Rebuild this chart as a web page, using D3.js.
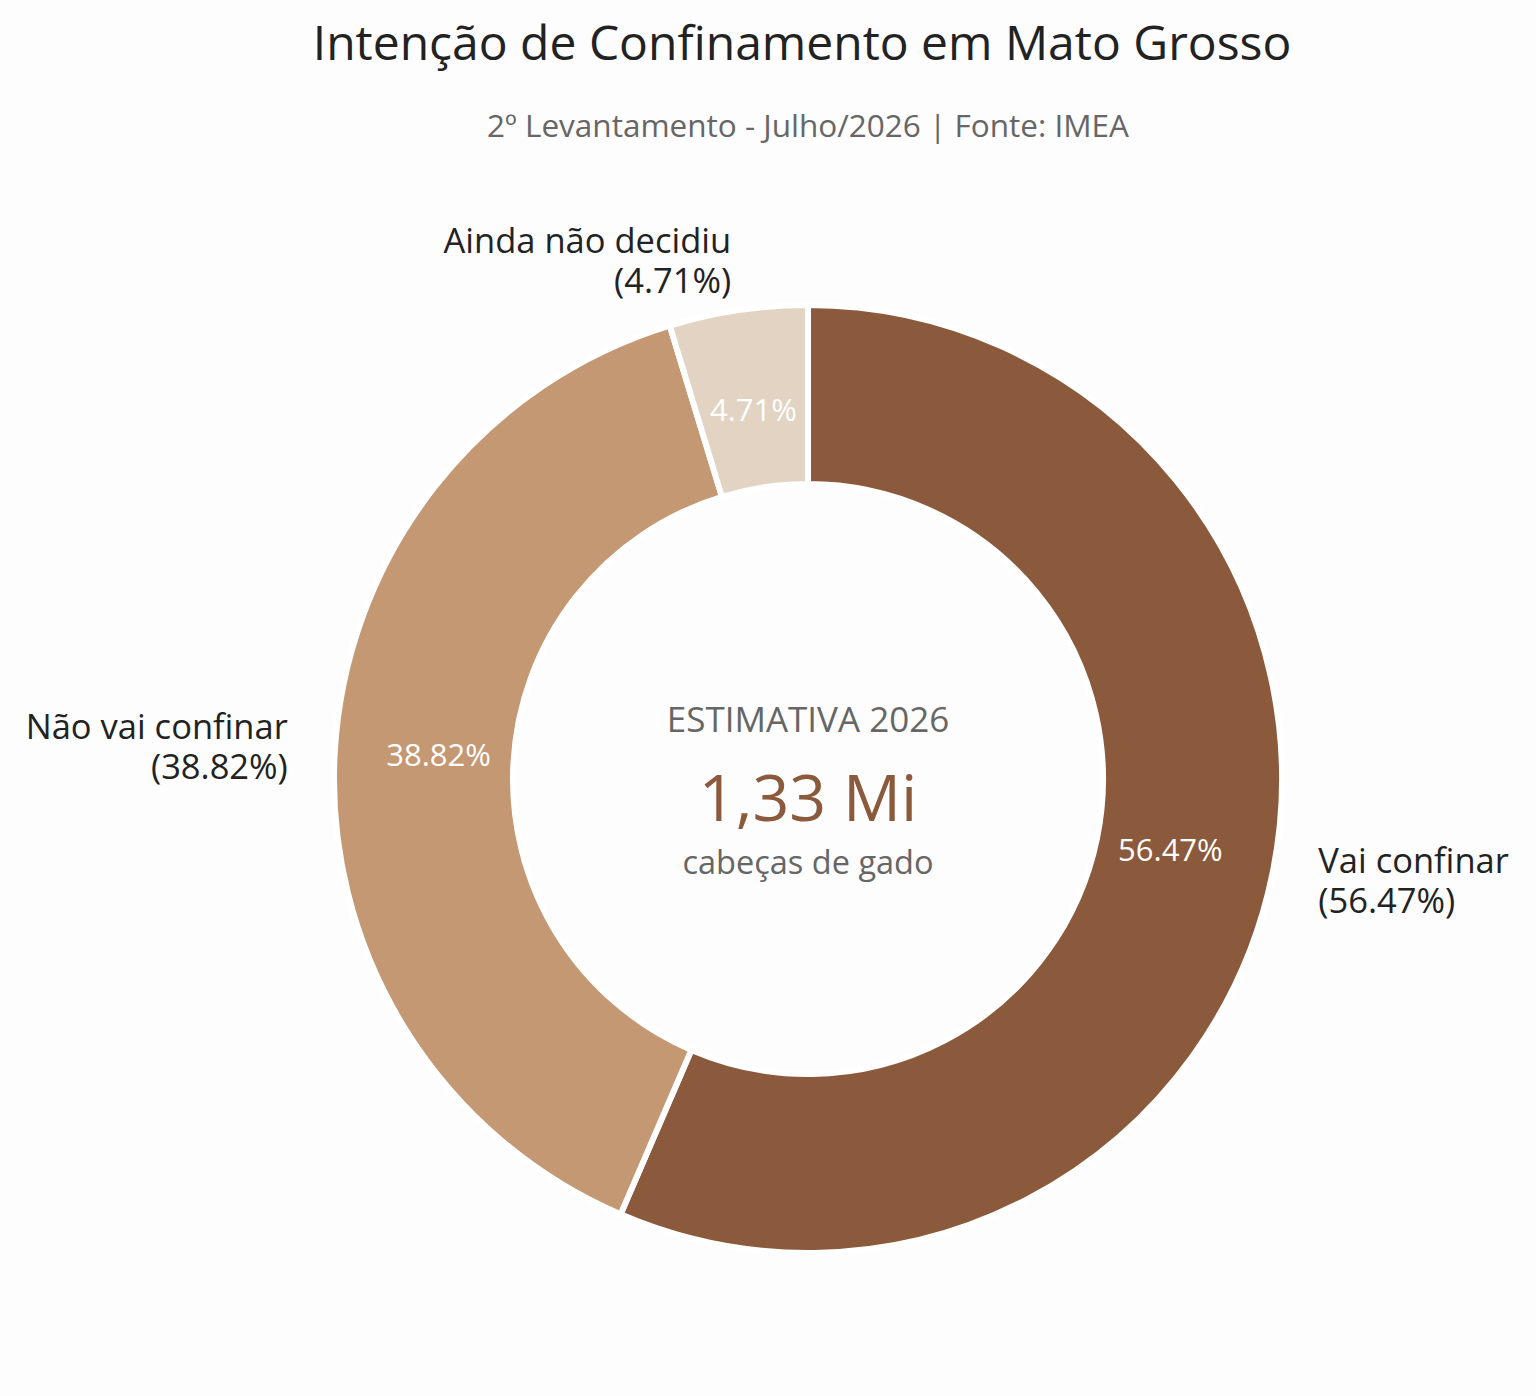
<!DOCTYPE html>
<html><head><meta charset="utf-8">
<script src="https://cdn.jsdelivr.net/npm/d3@7"></script>
<style>
html,body{margin:0;padding:0;background:#fdfdfd;}
svg{display:block;font-family:"Open Sans",Roboto,sans-serif;}
</style></head>
<body>
<svg id="chart" width="1536" height="1396"></svg>
<script>
const categories = ["Vai confinar", "Não vai confinar", "Ainda não decidiu"];
const values = [56.47, 38.82, 4.71];
const colors = ["#8b5a3c", "#c49873", "#e3d3c2"];
const titleText = "Intenção de Confinamento em Mato Grosso";
const subtitleText = "2º Levantamento - Julho/2026 | Fonte: IMEA";
const centerLines = ["ESTIMATIVA 2026", "1,33 Mi", "cabeças de gado"];

const svg = d3.select("#chart");
const cx = 808, cy = 779, R = 474, r = 295;

svg.append("text").attr("x", 802).attr("y", 60).attr("text-anchor", "middle")
  .attr("font-size", 48).attr("fill", "#222").text(titleText);
svg.append("text").attr("x", 808).attr("y", 137).attr("text-anchor", "middle")
  .attr("font-size", 31.5).attr("fill", "#666").text(subtitleText);

const data = categories.map((c, i) => ({cat: c, value: values[i], color: colors[i]}));
const pie = d3.pie().value(d => d.value).sort(null);
const arcs = pie(data);
const arc = d3.arc().innerRadius(r).outerRadius(R);
const labelArc = d3.arc().innerRadius(370).outerRadius(370);
const outerArc = d3.arc().innerRadius(521).outerRadius(521);

const g = svg.append("g").attr("transform", `translate(${cx},${cy})`);
g.selectAll("path").data(arcs).join("path")
  .attr("d", arc).attr("fill", d => d.data.color)
  .attr("stroke", "#ffffff").attr("stroke-width", 6);

const fmt = v => v.toFixed(2) + "%";
g.selectAll("text.in").data(arcs).join("text").attr("class", "in")
  .attr("transform", d => `translate(${labelArc.centroid(d)})`)
  .attr("text-anchor", "middle").attr("dy", "0.25em")
  .attr("font-size", 31).attr("fill", "#ffffff")
  .text(d => fmt(d.data.value));

const outer = g.selectAll("g.out").data(arcs).join("g").attr("class", "out")
  .attr("transform", d => `translate(${outerArc.centroid(d)})`);
const anchorOf = d => ((d.startAngle + d.endAngle) / 2 < Math.PI ? "start" : "end");
outer.append("text").attr("y", -11).attr("text-anchor", anchorOf)
  .attr("font-size", 34.5).attr("fill", "#222").text(d => d.data.cat);
outer.append("text").attr("y", 29).attr("text-anchor", anchorOf)
  .attr("font-size", 34.5).attr("fill", "#222").text(d => "(" + fmt(d.data.value) + ")");

g.append("text").attr("x", 0).attr("y", -47).attr("text-anchor", "middle")
  .attr("font-size", 35).attr("fill", "#666").text(centerLines[0]);
g.append("text").attr("x", 0).attr("y", 42).attr("text-anchor", "middle")
  .attr("font-size", 64.5).attr("fill", "#8b5a3c").text(centerLines[1]);
g.append("text").attr("x", 0).attr("y", 95).attr("text-anchor", "middle")
  .attr("font-size", 32.5).attr("fill", "#666").text(centerLines[2]);
</script>
</body></html>
